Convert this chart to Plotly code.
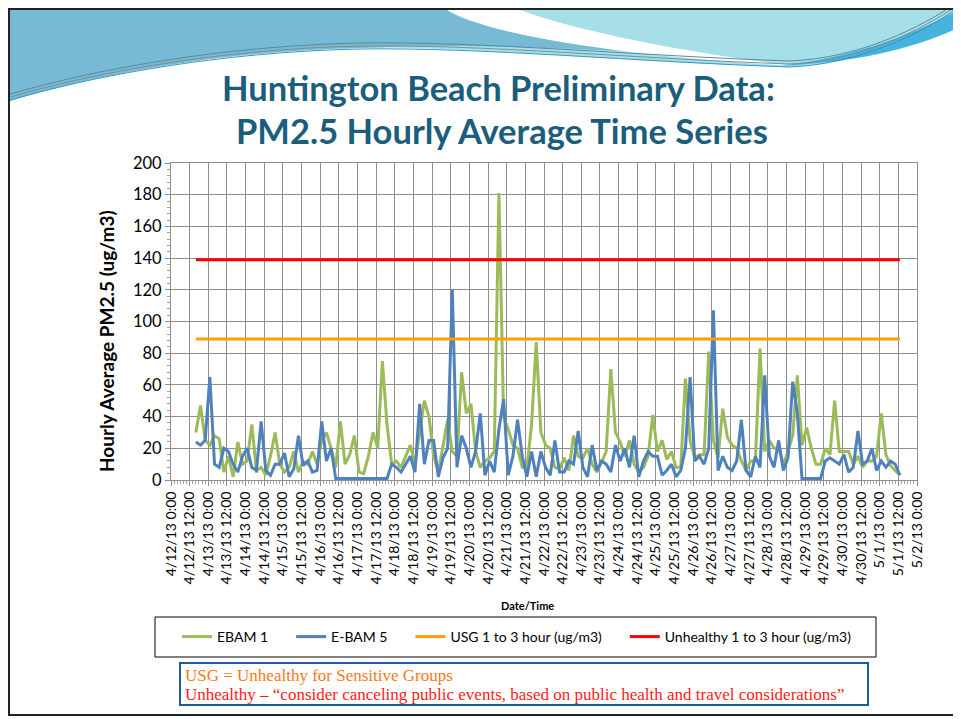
import pandas as pd
import plotly.graph_objects as go

# 3-hourly readings (ug/m3), starting 4/12/13 16:00
ebam1 = [
    30, 47, 25,                       # 4/12
    22, 28, 26, 5, 15, 2, 24, 10,     # 4/13
    12, 35, 6, 8, 3, 15, 30, 10,      # 4/14
    5, 8, 18, 5, 12, 10, 18, 10,      # 4/15
    25, 30, 20, 8, 37, 10, 16, 28,    # 4/16
    5, 4, 15, 30, 20, 75, 35, 10,     # 4/17
    12, 8, 15, 22, 10, 30, 50, 40,    # 4/18
    15, 5, 22, 38, 18, 15, 68, 42,    # 4/19
    48, 18, 8, 12, 14, 18, 181, 40,   # 4/20
    32, 22, 20, 8, 8, 35, 87, 30,     # 4/21
    22, 20, 8, 7, 14, 6, 28, 15,      # 4/22
    14, 20, 10, 5, 11, 18, 70, 30,    # 4/23
    24, 15, 25, 10, 5, 8, 15, 41,     # 4/24
    18, 25, 13, 18, 8, 8, 64, 25,     # 4/25
    14, 16, 16, 81, 25, 14, 45, 27,   # 4/26
    22, 20, 12, 6, 12, 12, 83, 18,    # 4/27
    25, 20, 20, 10, 18, 28, 66, 22,   # 4/28
    33, 20, 10, 10, 20, 16, 50, 18,   # 4/29
    18, 18, 10, 15, 8, 12, 12, 15,    # 4/30
    42, 16, 9, 6, 3,                  # 5/1
]

ebam5 = [
    24, 22, 25,                       # 4/12
    65, 10, 8, 20, 18, 10, 5, 15,     # 4/13
    20, 8, 6, 37, 6, 3, 10, 10,       # 4/14
    17, 2, 7, 28, 9, 12, 5, 6,        # 4/15
    37, 12, 20, 1, 1, 1, 1, 1,        # 4/16
    1, 1, 1, 1, 1, 1, 1, 10,          # 4/17
    8, 5, 10, 15, 5, 48, 10, 25,      # 4/18
    25, 2, 14, 20, 120, 8, 28, 20,    # 4/19
    8, 18, 42, 3, 12, 5, 32, 51,      # 4/20
    3, 15, 38, 15, 2, 18, 2, 18,      # 4/21
    8, 3, 25, 5, 5, 12, 10, 31,       # 4/22
    8, 2, 22, 6, 12, 10, 5, 22,       # 4/23
    12, 20, 8, 28, 2, 12, 18, 15,     # 4/24
    15, 3, 6, 10, 2, 6, 20, 65,       # 4/25
    12, 15, 10, 20, 107, 6, 15, 8,    # 4/26
    6, 12, 38, 6, 2, 15, 8, 66,       # 4/27
    15, 8, 25, 6, 14, 62, 42, 1,      # 4/28
    1, 1, 1, 1, 12, 14, 12, 10,       # 4/29
    16, 5, 8, 31, 10, 12, 20, 6,      # 4/30
    12, 8, 12, 10, 3,                 # 5/1
]

usg_level = [89, 89]
unhealthy_level = [139, 139]

times = pd.date_range("2013-04-12 16:00", periods=len(ebam1), freq="3h")
limit_x = [times[0], times[-1]]

# plot area in page pixels (page body has an 8px margin)
OFF = 8
L, R, T, B = 171, 917, 163, 480
W, H = 961 - OFF, 719 - OFF


def X(px):
    return (px - L) / (R - L)


def Y(py):
    return (B - py) / (B - T)


def p(x, y):
    return f"{X(x):.4f},{Y(y):.4f}"


pad = "\u00a0" * 5

fig = go.Figure()
fig.add_trace(go.Scatter(x=times, y=ebam1, name="EBAM 1" + pad, mode="lines",
                         line=dict(color="#9bbb59", width=3)))
fig.add_trace(go.Scatter(x=times, y=ebam5, name="E-BAM 5" + pad, mode="lines",
                         line=dict(color="#4f81bd", width=3)))
fig.add_trace(go.Scatter(x=limit_x, y=usg_level, name="USG 1 to 3 hour (ug/m3)" + pad, mode="lines",
                         line=dict(color="#ffa000", width=3)))
fig.add_trace(go.Scatter(x=limit_x, y=unhealthy_level, name="Unhealthy 1 to 3 hour (ug/m3)", mode="lines",
                         line=dict(color="#ff0000", width=3)))

# slide decoration (top waves)
deco = [
    (f"M{p(4,4)} L{p(958,4)} L{p(958,22)} C{p(905,45)} {p(850,63)} {p(790,67)} "
     f"C{p(620,62)} {p(470,46)} {p(360,48)} C{p(220,51)} {p(90,75)} {p(4,103)} Z", "#a6dfe8"),
    (f"M{p(4,4)} L{p(440,4)} C{p(455,22)} {p(520,38)} {p(640,52)} "
     f"C{p(520,46)} {p(440,44)} {p(360,48)} C{p(220,51)} {p(90,75)} {p(4,103)} Z", "#78b9d3"),
    (f"M{p(438,4)} L{p(505,4)} C{p(560,28)} {p(680,52)} {p(795,66)} C{p(650,58)} {p(480,38)} {p(438,4)} Z",
     "#ffffff"),
    (f"M{p(780,66)} C{p(850,58)} {p(915,35)} {p(958,10)} L{p(958,28)} C{p(915,48)} {p(860,62)} {p(780,66)} Z",
     "#46b3dd"),
]
shapes = []
for path, col in deco:
    shapes.append(dict(type="path", xref="paper", yref="paper", path=path, fillcolor=col,
                       line=dict(width=0), layer="below"))
for off, col in [(0, "#4a8fa8"), (3, "#8a8a8a"), (6, "#2a9bd0")]:
    shapes.append(dict(type="path", xref="paper", yref="paper",
                       path=f"M{p(4,96+off)} C{p(90,70+off)} {p(220,46+off)} {p(360,43+off)} "
                            f"C{p(480,41+off)} {p(640,56+off)} {p(790,61+off)} "
                            f"C{p(860,58+off)} {p(920,28+off)} {p(958,2+off)}",
                       line=dict(color=col, width=1), fillcolor="rgba(0,0,0,0)", layer="below"))

# slide frame, legend box, note box
shapes.append(dict(type="rect", xref="paper", yref="paper", x0=X(9), x1=X(958), y0=Y(9), y1=Y(715),
                   line=dict(color="#222222", width=2), layer="below"))
shapes.append(dict(type="rect", xref="paper", yref="paper", x0=X(155), x1=X(876), y0=Y(617), y1=Y(657),
                   line=dict(color="#000000", width=1)))
shapes.append(dict(type="rect", xref="paper", yref="paper", x0=X(180), x1=X(868), y0=Y(663), y1=Y(705),
                   line=dict(color="#1f5a9e", width=2), fillcolor="white"))

annotations = [
    dict(text="<b>Huntington Beach Preliminary Data:</b>", x=X(498), y=Y(88)),
    dict(text="<b>PM2.5 Hourly Average Time Series</b>", x=X(502), y=Y(130)),
]
for a in annotations:
    a.update(xref="paper", yref="paper", showarrow=False, xanchor="center", yanchor="middle",
             font=dict(family="Lato", size=34.5, color="#1a5e7b"))
annotations += [
    dict(text="USG = Unhealthy for Sensitive Groups", x=X(183), y=Y(675), xref="paper", yref="paper",
         showarrow=False, xanchor="left", yanchor="middle",
         font=dict(family="Liberation Serif", size=17, color="#f47a20")),
    dict(text="Unhealthy \u2013 \u201cconsider canceling public events, based on public health and travel considerations\u201d",
         x=X(183), y=Y(694), xref="paper", yref="paper", showarrow=False, xanchor="left", yanchor="middle",
         font=dict(family="Liberation Serif", size=17, color="#ff1a1a")),
    dict(text="<b>Date/Time</b>", x=X(527), y=Y(605), xref="paper", yref="paper", showarrow=False,
         xanchor="center", yanchor="middle", font=dict(family="Lato", size=11, color="black")),
    dict(text="<b>Hourly Average PM2.5 (ug/m3)</b>", x=X(106), y=Y(341), xref="paper", yref="paper",
         showarrow=False, textangle=-90, xanchor="center", yanchor="middle",
         font=dict(family="Lato", size=19, color="black")),
]

fig.update_layout(
    width=W, height=H,
    margin=dict(l=L - OFF, r=961 - R, t=T - OFF, b=719 - B, autoexpand=False),
    paper_bgcolor="white", plot_bgcolor="white",
    font=dict(family="Lato", color="black"),
    shapes=shapes, annotations=annotations,
    legend=dict(orientation="h", x=X(517), xanchor="center", y=Y(637), yanchor="middle",
                font=dict(family="Lato", size=14, color="black"), bgcolor="rgba(0,0,0,0)",
                itemwidth=30, tracegroupgap=0),
    xaxis=dict(
        type="date", range=["2013-04-12 00:00", "2013-05-02 00:00"],
        tick0="2013-04-12", dtick=12 * 3600000, tickformat="%-m/%-d/%y %-H:%M", tickangle=-90,
        tickfont=dict(family="Lato", size=14, color="black"),
        showgrid=True, gridcolor="#8f8f8f", gridwidth=1,
        showline=True, linecolor="#8f8f8f", mirror=True,
        ticks="outside", ticklen=5, tickcolor="#8f8f8f",
        minor=dict(dtick=2 * 3600000, ticks="outside", ticklen=3, tickcolor="#a0a0a0", showgrid=False),
    ),
    yaxis=dict(
        range=[0, 200], dtick=20, tickfont=dict(family="Lato", size=16.5, color="black"),
        showgrid=True, gridcolor="#8f8f8f", gridwidth=1,
        showline=True, linecolor="#8f8f8f", mirror=True,
        ticks="outside", ticklen=5, tickcolor="#8f8f8f",
        minor=dict(dtick=4, ticks="outside", ticklen=3, tickcolor="#a0a0a0", showgrid=False),
        zeroline=False,
    ),
)

fig.write_html("out.html")
